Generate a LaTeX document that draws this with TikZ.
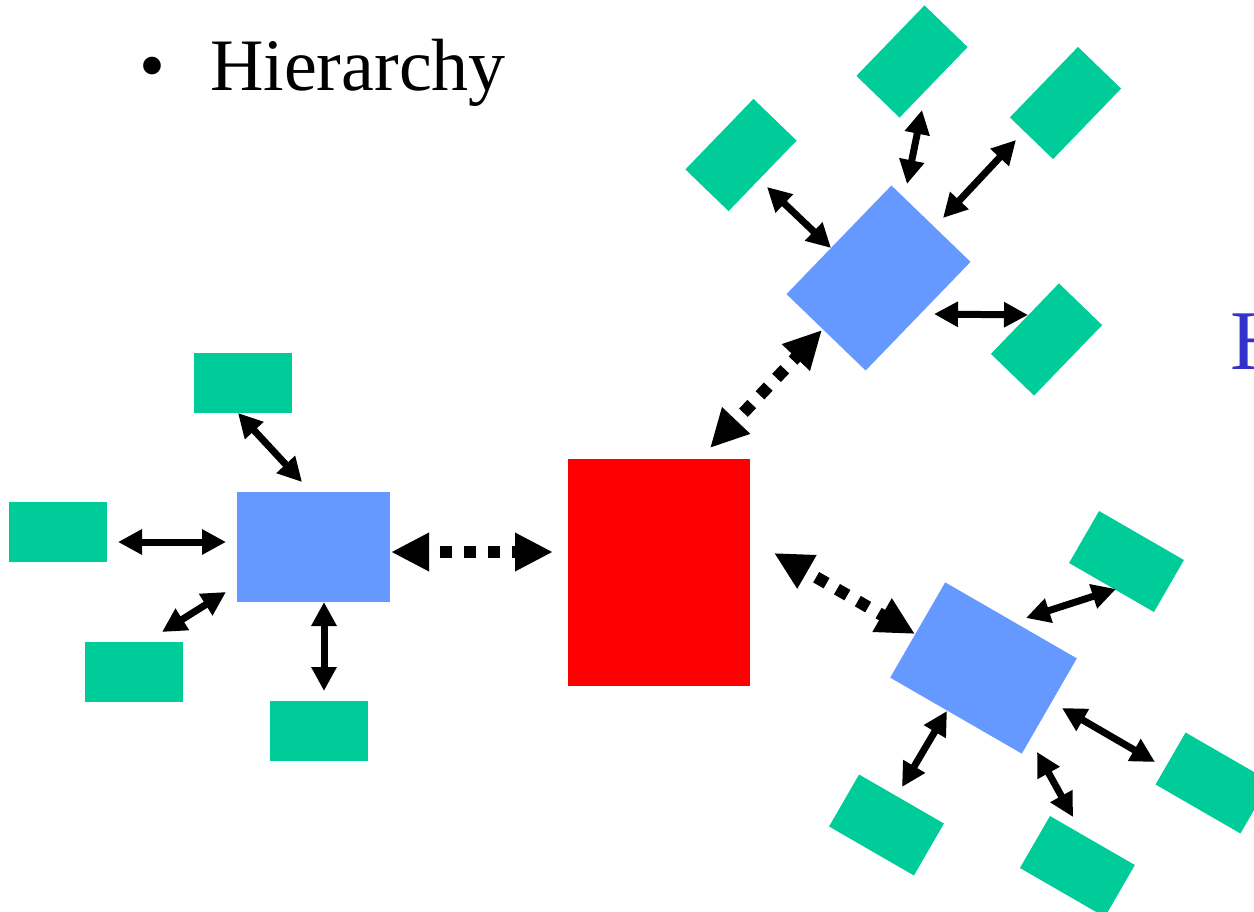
\documentclass[tikz,border=0pt]{standalone}
\usepackage{fontspec}
\setmainfont{Liberation Serif}
\usetikzlibrary{arrows.meta}
\definecolor{leaf}{RGB}{0,204,153}
\definecolor{mid}{RGB}{102,153,255}
\definecolor{root}{RGB}{255,0,0}
\definecolor{htext}{RGB}{51,51,204}
\tikzset{
  leafbox/.style={rectangle,fill=leaf,inner sep=0pt,minimum width=98pt,minimum height=60pt},
  midbox/.style={rectangle,fill=mid,inner sep=0pt,minimum width=152pt,minimum height=110pt},
  rootbox/.style={rectangle,fill=root,inner sep=0pt,minimum width=182pt,minimum height=227pt},
  solidlink/.style={line width=7pt,{Triangle[length=24pt,width=24pt]}-{Triangle[length=24pt,width=24pt]}},
  dotlink/.style={line width=12pt,dash pattern=on 12pt off 12pt,dash phase=11pt,{Triangle[length=38pt,width=36pt]}-{Triangle[length=38pt,width=36pt]}}
}
\begin{document}
\begin{tikzpicture}[x=1pt,y=-1pt]
\useasboundingbox (0,0) rectangle (1254,912);
\clip (0,0) rectangle (1254,912);
% title
\node[anchor=base west,inner sep=0pt,font=\fontsize{74}{80}\selectfont] (title) at (139,91) {\textbullet\hspace{45pt}Hierarchy};
\node[anchor=base west,inner sep=0pt,text=htext,font=\fontsize{85}{90}\selectfont] (hcut) at (1230,369) {H};
% root
\node[rootbox] (R) at (659,572.5) {};
% left group
\node[midbox,minimum width=153pt] (L) at (313.5,547) {};
\node[leafbox] (L1) at (243,383) {};
\node[leafbox] (L2) at (58,532) {};
\node[leafbox] (L3) at (134,672) {};
\node[leafbox] (L4) at (319,731) {};
% top-right group
\node[midbox,minimum width=151pt,rotate=46] (T) at (878.5,278) {};
\node[leafbox,rotate=46] (T1) at (741,155) {};
\node[leafbox,rotate=46] (T2) at (912,61.5) {};
\node[leafbox,rotate=46] (T3) at (1065.5,103) {};
\node[leafbox,rotate=46] (T4) at (1046.5,339.5) {};
% bottom-right group
\node[midbox,rotate=-30] (B) at (983.5,668) {};
\node[leafbox,rotate=-30] (B1) at (1126.5,561.5) {};
\node[leafbox,rotate=-30] (B2) at (1213,783) {};
\node[leafbox,rotate=-30] (B3) at (886.5,825) {};
\node[leafbox,rotate=-30] (B4) at (1077.4,866.5) {};
% connector ends
\coordinate (l1a) at (238,413); \coordinate (l1b) at (302,482);
\coordinate (l2a) at (118,542); \coordinate (l2b) at (226,542);
\coordinate (l3a) at (162,632); \coordinate (l3b) at (226,592);
\coordinate (l4a) at (324,691); \coordinate (l4b) at (324,602);
\coordinate (rla) at (391,552); \coordinate (rlb) at (553,552);
\coordinate (t1a) at (767,187); \coordinate (t1b) at (831,248);
\coordinate (t2a) at (922,110); \coordinate (t2b) at (907,184);
\coordinate (t3a) at (1016,140); \coordinate (t3b) at (943,218);
\coordinate (t4a) at (1028,315); \coordinate (t4b) at (934,314);
\coordinate (rta) at (710,448); \coordinate (rtb) at (822,330);
\coordinate (b1a) at (1116,589); \coordinate (b1b) at (1026,618);
\coordinate (b2a) at (1155,762); \coordinate (b2b) at (1062,708);
\coordinate (b3a) at (902,787); \coordinate (b3b) at (947,711);
\coordinate (b4a) at (1073,817); \coordinate (b4b) at (1037,752);
\coordinate (rba) at (774,553); \coordinate (rbb) at (915,634);
% connectors
\draw[solidlink] (l1a) -- (l1b);
\draw[solidlink] (l2a) -- (l2b);
\draw[solidlink] (l3a) -- (l3b);
\draw[solidlink] (l4a) -- (l4b);
\draw[solidlink] (t1a) -- (t1b);
\draw[solidlink] (t2a) -- (t2b);
\draw[solidlink] (t3a) -- (t3b);
\draw[solidlink] (t4a) -- (t4b);
\draw[solidlink] (b1a) -- (b1b);
\draw[solidlink] (b2a) -- (b2b);
\draw[solidlink] (b3a) -- (b3b);
\draw[solidlink] (b4a) -- (b4b);
\draw[dotlink] (rla) -- (rlb);
\draw[dotlink] (rta) -- (rtb);
\draw[dotlink] (rba) -- (rbb);
\end{tikzpicture}
\end{document}
